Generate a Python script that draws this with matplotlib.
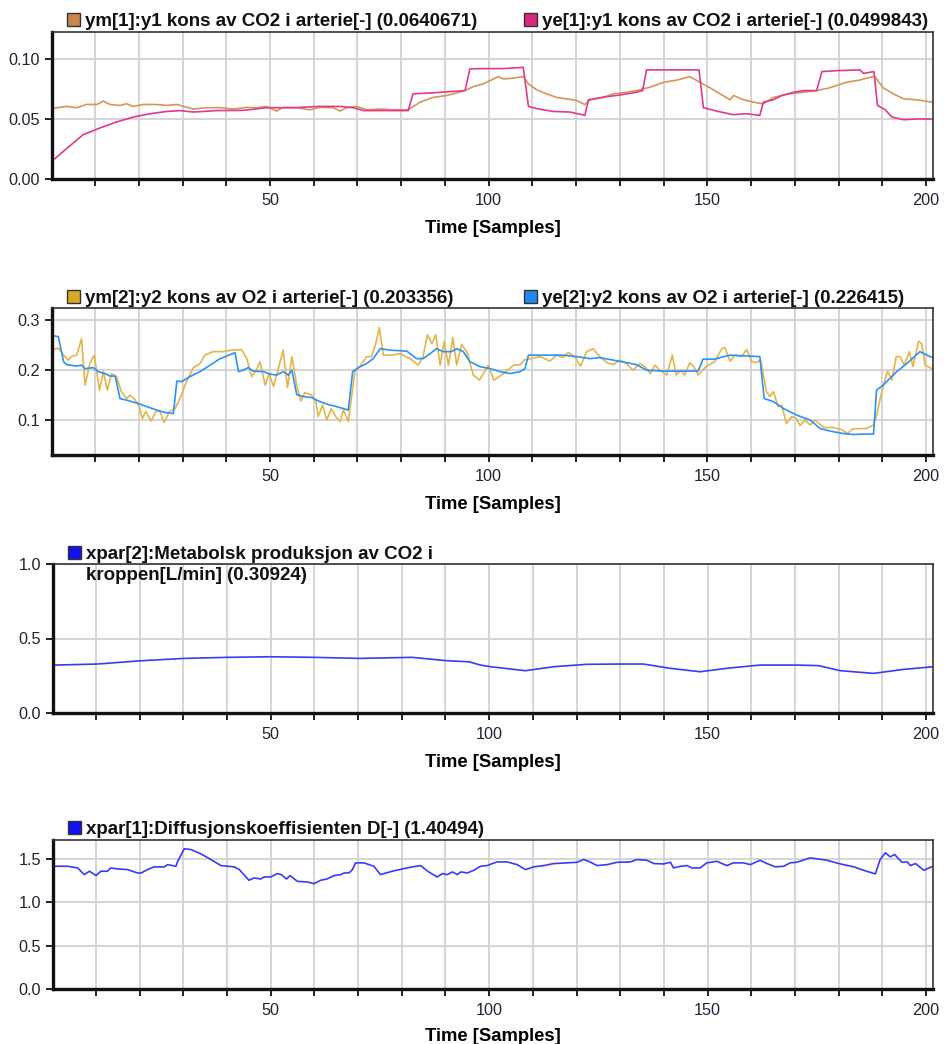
import matplotlib
matplotlib.use("Agg")
import matplotlib.pyplot as plt
from matplotlib.patches import Rectangle
from matplotlib.ticker import MultipleLocator, FixedLocator

plt.rcParams['font.family'] = ['Liberation Sans', 'DejaVu Sans']

# ---- series data: (sample, value) ----
ym1_t = [0.4, 3.5, 5.8, 8, 10.4, 11.9, 13.4, 15.7, 17.2, 18.7, 21, 24.1, 26.4, 28.7, 31, 32.5, 35.5, 38.6,
         41.6, 44.7, 47, 49.2, 51.5, 53, 56, 59.1, 61.4, 64.5, 66, 67.5, 69.8, 72.1, 75.2, 78.2, 81.6, 84.3,
         87.3, 90.4, 94.2, 96.5, 98.8, 100.3, 102.2, 103.3, 105.6, 107.9, 109.1, 111, 113.2, 115.5, 117.8,
         120.1, 122, 123.2, 126.2, 128.5, 131.5, 133.8, 136.9, 140, 143.1, 146, 148.3, 150.6, 152.9, 155.2,
         156, 158.3, 161.3, 162.8, 165.1, 168.9, 172, 175, 178, 181.8, 184.9, 187.2, 188.3, 190.2, 192.5,
         194.9, 197.9, 201.3]
ym1_v = [0.059, 0.0605, 0.0594, 0.0621, 0.0621, 0.0649, 0.0621, 0.0613, 0.0627, 0.0605, 0.0621, 0.0621,
         0.0613, 0.0621, 0.0597, 0.0583, 0.0594, 0.0594, 0.0583, 0.0597, 0.0594, 0.0605, 0.0566, 0.0597,
         0.0594, 0.0577, 0.0597, 0.0594, 0.0566, 0.0594, 0.0605, 0.0577, 0.0583, 0.0577, 0.0577, 0.064,
         0.068, 0.0696, 0.0732, 0.077, 0.0793, 0.082, 0.0853, 0.0834, 0.084, 0.0853, 0.0793, 0.0743, 0.071,
         0.068, 0.0668, 0.0655, 0.062, 0.066, 0.068, 0.071, 0.0723, 0.0737, 0.0765, 0.0806, 0.0825, 0.0853,
         0.0806, 0.076, 0.071, 0.066, 0.0696, 0.066, 0.0635, 0.0627, 0.068, 0.071, 0.0723, 0.0737, 0.076,
         0.0806, 0.0825, 0.0848, 0.0853, 0.076, 0.071, 0.0668, 0.066, 0.0640671]

ye1_t = [0.4, 3.5, 7.3, 11.1, 14.9, 18.7, 22.6, 26.4, 29.4, 32.5, 37.8, 43.9, 49.2, 55.3, 61.4, 66, 69,
         71.4, 76, 81.6, 82.7, 87.3, 94.6, 95.7, 98, 103.3, 107.9, 109.1, 111, 114.8, 118.6, 122, 122.8,
         126.2, 130, 133.8, 135.2, 136.1, 141.5, 148.1, 149.1, 152.1, 155.9, 159, 162, 162.8, 165.1, 167,
         169.7, 172, 175, 176.2, 179.6, 184.9, 185.7, 188.1, 188.9, 190.7, 192.2, 194.9, 197.9, 201.3]
ye1_v = [0.0157, 0.0254, 0.037, 0.0425, 0.0475, 0.0516, 0.0544, 0.0563, 0.057, 0.0558, 0.057, 0.0572,
         0.0594, 0.0594, 0.0605, 0.0605, 0.0594, 0.057, 0.057, 0.057, 0.071, 0.0718, 0.0737, 0.0917, 0.092,
         0.092, 0.093, 0.0605, 0.0586, 0.0563, 0.0558, 0.053, 0.066, 0.0682, 0.070, 0.0723, 0.0737, 0.0909,
         0.0909, 0.0909, 0.0594, 0.0566, 0.0536, 0.0544, 0.053, 0.064, 0.066, 0.0696, 0.0723, 0.0737,
         0.0737, 0.0895, 0.0903, 0.0909, 0.088, 0.0895, 0.0613, 0.0577, 0.0516, 0.0494, 0.05, 0.0499843]

ym2_t = [0.4, 1.6, 2.8, 3.9, 4.6, 5.8, 6.9, 7.7, 8.8, 9.8, 11, 11.9, 12.8, 13.8, 14.9, 16, 17.2, 18, 19.1,
         20.1, 20.8, 21.6, 22.8, 23.9, 24.8, 25.8, 27, 28.3, 29.4, 30.9, 32.5, 34, 35.1, 37, 39.3, 41.2,
         43.5, 44.7, 45.8, 46.9, 47.7, 48.9, 49.8, 50.8, 51.9, 53, 54, 55, 56.1, 57, 58, 59.5, 60.5, 61, 62,
         63, 64, 65, 66, 66.8, 67.9, 69.4, 70.6, 72.1, 73.2, 74, 75, 75.9, 77.8, 79.7, 82, 83.9, 85, 86, 87,
         87.9, 88.9, 89.8, 90.8, 91.8, 92.7, 93.8, 95, 96.5, 97.9, 99.9, 101.2, 103.4, 105.7, 107.3, 108,
         109.5, 111.8, 114, 115.5, 117, 118.2, 119.7, 121, 122.4, 123.9, 125.4, 127, 128.5, 130, 131.5, 133,
         134.6, 135.7, 137, 138, 139.1, 140.7, 142, 142.9, 143.9, 144.8, 146, 146.9, 147.9, 149.8, 151.7,
         153.3, 154, 155.2, 156.3, 157.8, 159, 160.1, 161.2, 162.2, 163.5, 164.3, 165.1, 166.2, 167, 168.1,
         169.3, 170.4, 171.2, 172.3, 173.5, 174.6, 176.6, 178.9, 180.9, 182, 183.2, 184.7, 186.4, 188,
         188.7, 189.9, 191.2, 192.2, 193.2, 194.1, 195, 196.2, 197, 198.3, 199, 199.8, 201.3]
ym2_v = [0.241, 0.244, 0.23, 0.22, 0.227, 0.23, 0.263, 0.17, 0.213, 0.23, 0.16, 0.197, 0.16, 0.193, 0.187,
         0.157, 0.143, 0.15, 0.141, 0.127, 0.103, 0.117, 0.098, 0.117, 0.118, 0.095, 0.117, 0.123, 0.143,
         0.177, 0.205, 0.213, 0.23, 0.237, 0.237, 0.24, 0.241, 0.223, 0.187, 0.2, 0.217, 0.17, 0.193, 0.167,
         0.203, 0.24, 0.165, 0.227, 0.17, 0.138, 0.155, 0.15, 0.137, 0.107, 0.13, 0.1, 0.123, 0.107, 0.097,
         0.12, 0.097, 0.197, 0.208, 0.227, 0.227, 0.247, 0.285, 0.23, 0.23, 0.233, 0.223, 0.21, 0.227, 0.271,
         0.253, 0.271, 0.21, 0.257, 0.21, 0.265, 0.21, 0.251, 0.237, 0.19, 0.18, 0.21, 0.18, 0.193, 0.21,
         0.211, 0.22, 0.223, 0.227, 0.218, 0.23, 0.225, 0.235, 0.227, 0.208, 0.237, 0.243, 0.227, 0.215,
         0.211, 0.22, 0.213, 0.2, 0.213, 0.207, 0.193, 0.21, 0.2, 0.19, 0.23, 0.19, 0.2, 0.19, 0.215, 0.207,
         0.19, 0.208, 0.217, 0.243, 0.245, 0.218, 0.23, 0.227, 0.241, 0.218, 0.215, 0.22, 0.157, 0.147,
         0.157, 0.127, 0.13, 0.093, 0.107, 0.103, 0.089, 0.1, 0.09, 0.1, 0.085, 0.085, 0.08, 0.073, 0.082,
         0.083, 0.083, 0.09, 0.11, 0.157, 0.198, 0.18, 0.227, 0.227, 0.21, 0.237, 0.207, 0.258, 0.253, 0.21,
         0.203356]

ye2_t = [0.4, 1.6, 2.8, 3.5, 5.8, 6.9, 7.7, 9.6, 10.7, 12.3, 13.4, 14.6, 15.7, 17.6, 19.5, 21.8, 24.1, 26,
         27.9, 28.7, 29.8, 31.7, 34, 36.3, 38.6, 40.9, 42, 42.8, 43.9, 45, 46.2, 48.5, 50, 51.5, 53, 54.2, 55,
         56.1, 57.6, 59.5, 61.4, 63.3, 65.2, 67.9, 68.9, 70.2, 72.1, 73.6, 75.2, 77.4, 81.3, 83.5, 85, 86.6,
         88.1, 89.6, 91.5, 92.7, 94.2, 95.7, 98, 100.3, 102.6, 104.9, 107.2, 108.3, 109.1, 113.2, 117, 120.1,
         123.2, 125.4, 128.5, 131.5, 133.8, 136.1, 139.9, 144.5, 147.9, 149, 151.7, 152.9, 155.2, 157.5,
         159.8, 162, 163, 165.1, 167.4, 170.4, 173.5, 175.8, 178, 181.1, 183.4, 186.4, 188, 188.7, 190.2,
         193.3, 195.6, 198.6, 200.9, 201.4]
ye2_v = [0.269, 0.267, 0.217, 0.211, 0.208, 0.210, 0.203, 0.205, 0.197, 0.193, 0.188, 0.188, 0.143, 0.139,
         0.134, 0.127, 0.120, 0.115, 0.113, 0.178, 0.177, 0.187, 0.197, 0.21, 0.223, 0.231, 0.235, 0.197,
         0.2, 0.205, 0.198, 0.197, 0.192, 0.19, 0.197, 0.19, 0.2, 0.151, 0.147, 0.145, 0.137, 0.131, 0.127,
         0.12, 0.197, 0.205, 0.213, 0.223, 0.243, 0.24, 0.238, 0.223, 0.223, 0.233, 0.243, 0.237, 0.237,
         0.243, 0.237, 0.217, 0.207, 0.203, 0.197, 0.193, 0.197, 0.203, 0.23, 0.23, 0.23, 0.227, 0.223,
         0.225, 0.22, 0.215, 0.211, 0.2, 0.198, 0.198, 0.198, 0.222, 0.222, 0.225, 0.23, 0.229, 0.228, 0.227,
         0.143, 0.137, 0.123, 0.11, 0.1, 0.083, 0.078, 0.073, 0.071, 0.072, 0.072, 0.16, 0.17, 0.197, 0.213,
         0.237, 0.227, 0.226415]

xpar2_t = [0.8, 10.4, 20.3, 30.2, 40.1, 50, 59.9, 70.2, 82.4, 90.4, 95.4, 98, 100.3, 108.3, 114.8, 122.4,
           130, 135.3, 141.2, 148.3, 154.6, 162, 170.4, 175.4, 180.4, 188, 194.9, 201.5]
xpar2_v = [0.321, 0.328, 0.35, 0.366, 0.373, 0.377, 0.373, 0.366, 0.373, 0.35, 0.343, 0.321, 0.31, 0.283,
           0.31, 0.326, 0.328, 0.328, 0.3, 0.276, 0.3, 0.321, 0.321, 0.317, 0.283, 0.265, 0.292, 0.30924]

xpar1_t = [0.8, 3.5, 5.8, 7.3, 8.5, 10, 11.1, 12.6, 13.4, 14.9, 17.2, 19.5, 20.3, 21.8, 23.3, 25.6, 26.4,
           28.3, 28.7, 30.2, 31.7, 34, 36.3, 38.6, 41.6, 42.8, 45, 46.2, 47.7, 48.5, 50, 51.5, 52.4, 53.6,
           54.4, 56.1, 58.4, 59.9, 61.4, 62.9, 64.5, 66, 66.8, 67.9, 68.7, 69.4, 71.3, 73.6, 75.1, 77.8, 80.1,
           82.4, 84.3, 85.9, 88.1, 89.3, 90.4, 91.6, 92.7, 93.5, 95, 96.5, 98, 99.5, 101.8, 104.1, 106.4,
           108.3, 110.2, 112.5, 114.8, 117.8, 120.1, 121.6, 122.8, 124.7, 127, 129.3, 132.3, 133.8, 136.1,
           137.7, 139.9, 141.5, 142.2, 143.8, 145.3, 146.4, 148.3, 149.8, 152.1, 154.4, 155.9, 158.2, 159.8,
           162, 163.6, 165.5, 167.4, 168.9, 170.4, 173.5, 177.3, 180.4, 183.5, 185.7, 188.4, 189.5, 190.7,
           191.8, 192.8, 194.5, 195.7, 196.4, 197.6, 199.5, 201.3]
xpar1_v = [1.411, 1.411, 1.392, 1.315, 1.354, 1.304, 1.354, 1.354, 1.392, 1.38, 1.373, 1.334, 1.334, 1.373,
           1.404, 1.404, 1.43, 1.411, 1.468, 1.612, 1.604, 1.554, 1.488, 1.419, 1.404, 1.373, 1.25, 1.277,
           1.265, 1.288, 1.288, 1.327, 1.315, 1.265, 1.304, 1.238, 1.23, 1.211, 1.25, 1.265, 1.304, 1.315,
           1.334, 1.334, 1.373, 1.45, 1.45, 1.411, 1.315, 1.354, 1.38, 1.404, 1.419, 1.354, 1.288, 1.327,
           1.315, 1.346, 1.315, 1.346, 1.334, 1.365, 1.411, 1.419, 1.461, 1.461, 1.43, 1.373, 1.404, 1.419,
           1.442, 1.45, 1.457, 1.488, 1.468, 1.419, 1.43, 1.457, 1.461, 1.488, 1.48, 1.442, 1.438, 1.457,
           1.392, 1.411, 1.419, 1.392, 1.392, 1.45, 1.468, 1.419, 1.45, 1.45, 1.43, 1.48, 1.442, 1.404, 1.411,
           1.45, 1.457, 1.508, 1.48, 1.438, 1.404, 1.365, 1.323, 1.488, 1.566, 1.519, 1.546, 1.457, 1.461,
           1.419, 1.442, 1.365, 1.40494]

# ---- legend labels and colours ----
lab_ym1 = "ym[1]:y1 kons av CO2 i arterie[-] (0.0640671)"
lab_ye1 = "ye[1]:y1 kons av CO2 i arterie[-] (0.0499843)"
lab_ym2 = "ym[2]:y2 kons av O2 i arterie[-] (0.203356)"
lab_ye2 = "ye[2]:y2 kons av O2 i arterie[-] (0.226415)"
lab_xp2 = "xpar[2]:Metabolsk produksjon av CO2 i\nkroppen[L/min] (0.30924)"
lab_xp1 = "xpar[1]:Diffusjonskoeffisienten D[-] (1.40494)"

c_ym1, c_ym1_box = "#D4955A", "#C8864A"
c_ye1, c_ye1_box = "#E2388E", "#D8287F"
c_ym2, c_ym2_box = "#E3B54A", "#D9A825"
c_ye2, c_ye2_box = "#2B93F5", "#1E88F0"
c_xp, c_xp_box = "#3A3AF8", "#1010F0"

W, H = 948, 1044
fig = plt.figure(figsize=(W / 100, H / 100), dpi=100)

LEG_FS = 13.5


def px_axes(l, t, r, b):
    return fig.add_axes([l / W, 1 - b / H, (r - l) / W, (b - t) / H])


def style(ax, ylim, yticks, ylabels, labelpad=9):
    ax.set_xlim(0.15, 201.6)
    ax.set_ylim(*ylim)
    ax.xaxis.set_major_locator(FixedLocator([50, 100, 150, 200]))
    ax.xaxis.set_minor_locator(MultipleLocator(10))
    ax.set_yticks(yticks)
    ax.set_yticklabels(ylabels)
    ax.grid(True, which='both', axis='x', color='#D2D2D2', lw=1.3)
    ax.grid(True, which='major', axis='y', color='#D2D2D2', lw=1.3)
    ax.set_axisbelow(True)
    for s in ('left', 'bottom'):
        ax.spines[s].set_linewidth(2.4)
        ax.spines[s].set_color('#111111')
    for s in ('top', 'right'):
        ax.spines[s].set_linewidth(1.2)
        ax.spines[s].set_color('#333333')
    ax.tick_params(axis='both', which='both', direction='out', length=5, width=1.3,
                   color='#111111', labelsize=11.7, labelcolor='#222233')
    ax.tick_params(axis='x', which='both', pad=5)
    ax.tick_params(axis='y', which='both', pad=3.5)
    ax.tick_params(axis='x', which='minor', labelbottom=False)
    ax.set_xlabel("Time [Samples]", fontsize=13.3, fontweight='bold', labelpad=labelpad)


def legend_entry(x, y, color, text):
    # coloured square followed by the bold series label; y is the first line's centre (px)
    fig.patches.append(Rectangle((x / W, 1 - (y + 6.5) / H), 13 / W, 13 / H,
                                 transform=fig.transFigure, facecolor=color,
                                 edgecolor='#333333', lw=1.0))
    fig.text((x + 18) / W, 1 - (y - 6) / H, text, fontsize=LEG_FS, fontweight='bold',
             color='#111111', ha='left', va='top', linespacing=1.28)


# Panel 1: CO2
ax1 = px_axes(52, 32, 933, 179)
ax1.plot(ym1_t, ym1_v, color=c_ym1, lw=1.2)
ax1.plot(ye1_t, ye1_v, color=c_ye1, lw=1.2)
style(ax1, (0, 0.1225), [0.0, 0.05, 0.10], ["0.00", "0.05", "0.10"])
legend_entry(67, 19, c_ym1_box, lab_ym1)
legend_entry(524, 19, c_ye1_box, lab_ye1)

# Panel 2: O2
ax2 = px_axes(52, 307.7, 933, 455)
ax2.plot(ym2_t, ym2_v, color=c_ym2, lw=1.2)
ax2.plot(ye2_t, ye2_v, color=c_ye2, lw=1.2)
style(ax2, (0.03, 0.325), [0.1, 0.2, 0.3], ["0.1", "0.2", "0.3"])
legend_entry(67, 296, c_ym2_box, lab_ym2)
legend_entry(524, 296, c_ye2_box, lab_ye2)

# Panel 3: metabolic CO2 production
ax3 = px_axes(53, 564.3, 933, 712.7)
ax3.plot(xpar2_t, xpar2_v, color=c_xp, lw=1.2)
style(ax3, (0, 1.0), [0.0, 0.5, 1.0], ["0.0", "0.5", "1.0"])
legend_entry(68, 552, c_xp_box, lab_xp2)

# Panel 4: diffusion coefficient
ax4 = px_axes(53, 840, 933, 989)
ax4.plot(xpar1_t, xpar1_v, color=c_xp, lw=1.2)
style(ax4, (0, 1.713), [0.0, 0.5, 1.0, 1.5], ["0.0", "0.5", "1.0", "1.5"], labelpad=7)
legend_entry(68, 827, c_xp_box, lab_xp1)

fig.savefig("out.png", dpi=100, facecolor='white')
